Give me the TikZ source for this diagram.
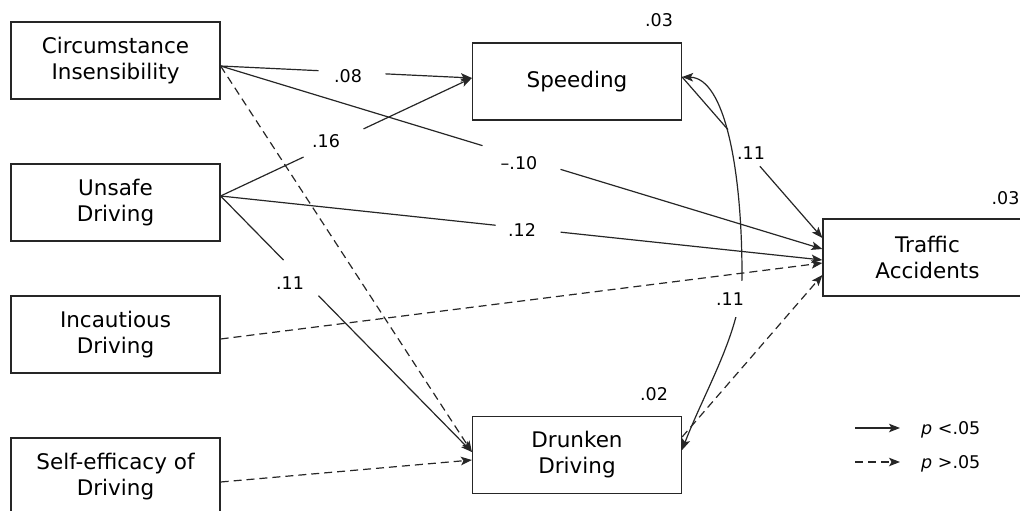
\documentclass[tikz,border=0pt]{standalone}
\usepackage{fontspec}
\setmainfont{DejaVu Sans}
\usetikzlibrary{arrows.meta}
\begin{document}
\begin{tikzpicture}[x=1pt,y=-1pt,
  >={Stealth[length=11pt,width=8.5pt,inset=2.5pt]},
  box/.style={draw=black!85, line width=1.2pt, minimum width=209pt, minimum height=77pt,
    align=center, inner sep=0pt, font=\fontsize{21.5}{26}\selectfont},
  conn/.style={draw=black!85, line width=1.2pt, ->},
  dconn/.style={conn, dash pattern=on 8pt off 5pt},
  num/.style={font=\fontsize{17.5}{20}\selectfont, inner sep=0pt},
]
\useasboundingbox (0,0) rectangle (1020,511);

% boxes
\node[box] (C)  at (115.5,60.5)  {Circumstance\\Insensibility};
\node[box] (U)  at (115.5,202.5) {Unsafe\\Driving};
\node[box] (I)  at (115.5,334.5) {Incautious\\Driving};
\node[box] (S)  at (115.5,476.5) {Self-efficacy of\\Driving};
\node[box] (Sp) at (577,81.5)    {Speeding};
\node[box] (D)  at (577,455)     {Drunken\\Driving};
\node[box] (T)  at (927.5,257.5) {Traffic\\Accidents};

% significant paths (solid, with gaps for labels)
\draw[conn, dash pattern=on 98pt off 67pt on 1000pt]
  ([yshift=-5.5pt]C.east) -- ([yshift=3.5pt]Sp.west);
\draw[conn, dash pattern=on 91.7pt off 66.2pt on 1000pt]
  ([yshift=6.5pt]U.east) -- ([yshift=3.5pt]Sp.west);
\draw[conn, dash pattern=on 273.8pt off 81.5pt on 1000pt]
  ([yshift=-5.5pt]C.east) -- ([yshift=8.5pt]T.west);
\draw[conn, dash pattern=on 276.6pt off 65.3pt on 1000pt]
  ([yshift=6.5pt]U.east) -- ([yshift=-2.5pt]T.west);
\draw[conn, dash pattern=on 89.8pt off 49.9pt on 1000pt]
  ([yshift=6.5pt]U.east) -- ([yshift=3pt]D.west);
\draw[conn, dash pattern=on 69.8pt off 48.6pt on 1000pt]
  ([yshift=4.5pt]Sp.east) -- ([yshift=19.5pt]T.west);

% non-significant paths (dashed)
\draw[dconn] ([yshift=-5.5pt]C.east) -- ([yshift=3pt]D.west);
\draw[dconn] ([yshift=-4.5pt]I.east) -- ([yshift=-5.5pt]T.west);
\draw[dconn] ([yshift=-5.5pt]S.east) -- ([yshift=-5pt]D.west);
\draw[dconn] ([yshift=18pt]D.east) -- ([yshift=-17.5pt]T.west);

% correlation between Speeding and Drunken Driving
\draw[conn, <->] ([yshift=4.5pt]Sp.east) .. controls (725,78) and (742,170) .. (742,275)
  .. controls (742,330) and (705,390) .. ([yshift=5pt]D.east);

% labels
\node[num] (l08)  at (348,76)  {.08};
\node[num] (l16)  at (326,141) {.16};
\node[num] (l10)  at (519,163) {–.10};
\node[num] (l12)  at (522,230) {.12};
\node[num] (l11a) at (290,283) {.11};
\node[num] (l11b) at (751,153) {.11};
\node[num, fill=white, minimum width=34pt, minimum height=36pt] (l11c) at (730,299) {.11};
\node[num] (r1) at (659,20)    {.03};
\node[num] (r2) at (1005.5,198) {.03};
\node[num] (r3) at (654,394)   {.02};

% legend
\coordinate (a1) at (855,428); \coordinate (a2) at (900,428);
\draw[conn] (a1) -- (a2);
\node[num, anchor=base west] (p1) at (921,434.5) {\textit{p} <.05};
\coordinate (b1) at (855,462); \coordinate (b2) at (900,462);
\draw[dconn] (b1) -- (b2);
\node[num, anchor=base west] (p2) at (921,468.5) {\textit{p} >.05};
\end{tikzpicture}
\end{document}
